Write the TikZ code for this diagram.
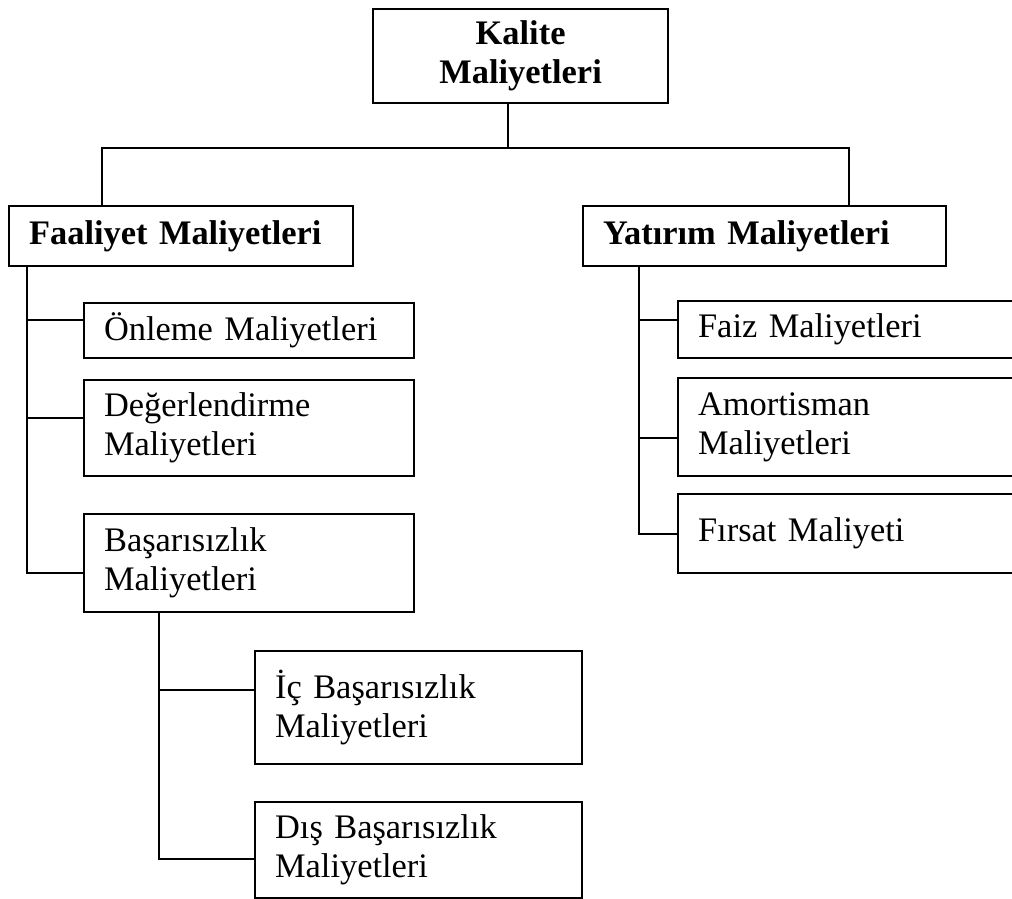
\documentclass[tikz,border=0pt]{standalone}
\usepackage{fontspec}
\setmainfont{Liberation Serif}

\begin{document}
\begin{tikzpicture}[x=1pt, y=-1pt,
    box/.style={draw, line width=2.2pt, anchor=north west, align=left, inner xsep=20pt, inner ysep=0pt, font=\fontsize{34.4}{39}\selectfont},
    head/.style={box, font=\fontsize{34.4}{39}\selectfont\bfseries},
    link/.style={line width=2.2pt}]
    \useasboundingbox (0,0) rectangle (1012,899);
    \clip (0,0) rectangle (1012,899);
    \node[head, align=center, text width=255pt, minimum height=94pt] (kalite) at (372,8) {Kalite\\Maliyetleri};
    \node[head, text width=304pt, minimum height=60pt] (faaliyet) at (8,205) {Faaliyet Maliyetleri};
    \node[head, text width=323pt, minimum height=60pt] (yatirim) at (582,205) {Yatırım Maliyetleri};
    % faaliyet maliyetleri
    \node[box, text width=290pt, minimum height=55pt] (onleme) at (83,302) {Önleme Maliyetleri};
    \node[box, text width=290pt, minimum height=96pt] (degerlendirme) at (83,379) {Değerlendirme\\Maliyetleri};
    \node[box, text width=290pt, minimum height=98pt] (basarisizlik) at (83,513) {Başarısızlık\\Maliyetleri};
    \node[box, text width=287pt, minimum height=113pt] (ic) at (254,650) {İç Başarısızlık\\Maliyetleri};
    \node[box, text width=287pt, minimum height=96pt] (dis) at (254,801) {Dış Başarısızlık\\Maliyetleri};
    % yatirim maliyetleri
    \node[box, text width=323pt, minimum height=57pt] (faiz) at (677,300) {Faiz Maliyetleri};
    \node[box, text width=323pt, minimum height=98pt] (amortisman) at (677,377) {Amortisman\\Maliyetleri};
    \node[box, text width=323pt, minimum height=79pt] (firsat) at (677,493) {Fırsat Maliyeti};
    % connectors
    \draw[link] ([xshift=-13pt]kalite.south) -- ++(0,44) -| ([xshift=94pt]faaliyet.north west);
    \draw[link] ([xshift=-13pt]kalite.south) -- ++(0,44) -| ([xshift=267pt]yatirim.north west);
    \draw[link] ([xshift=19pt]faaliyet.south west) |- ([yshift=11pt]onleme.west);
    \draw[link] ([xshift=19pt]faaliyet.south west) |- ([yshift=10pt]degerlendirme.west);
    \draw[link] ([xshift=19pt]faaliyet.south west) |- ([yshift=-10pt]basarisizlik.west);
    \draw[link] ([xshift=76pt]basarisizlik.south west) |- ([yshift=18pt]ic.west);
    \draw[link] ([xshift=76pt]basarisizlik.south west) |- ([yshift=-9pt]dis.west);
    \draw[link] ([xshift=57pt]yatirim.south west) |- ([yshift=10pt]faiz.west);
    \draw[link] ([xshift=57pt]yatirim.south west) |- ([yshift=-11pt]amortisman.west);
    \draw[link] ([xshift=57pt]yatirim.south west) |- (firsat.west);
\end{tikzpicture}
\end{document}
